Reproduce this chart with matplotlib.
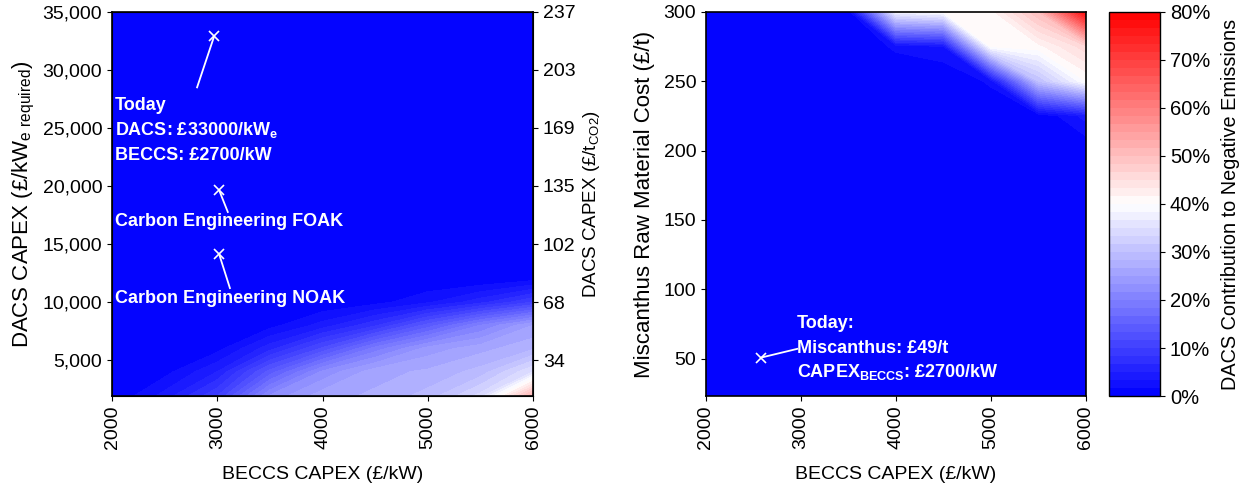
import numpy as np
import matplotlib.pyplot as plt
from matplotlib.ticker import FuncFormatter

plt.rcParams['font.family'] = ['Liberation Sans', 'DejaVu Sans']
plt.rcParams['font.size'] = 12
plt.rcParams['mathtext.fontset'] = 'custom'
plt.rcParams['mathtext.rm'] = 'Liberation Sans'
plt.rcParams['mathtext.bf'] = 'Liberation Sans:bold'

# BECCS CAPEX grid (GBP/kW), shared by both maps
beccs = [2000, 2500, 3000, 3500, 4000, 4500, 5000, 5500, 6000]

# left map: DACS CAPEX (GBP/kWe) vs BECCS CAPEX, DACS share of negative emissions (%)
dacs_capex = [1900, 4000, 6000, 8000, 10000, 12000, 15000, 20000, 25000, 30000, 35000]
share_dacs = [
    [0, 4, 10, 22, 26, 27, 29, 34, 52],
    [0, 1, 5, 14, 22, 26, 27, 29, 35],
    [0, 0, 1, 6, 12, 19, 24, 26, 28],
    [0, 0, 0, 1, 4, 8, 14, 20, 25],
    [0, 0, 0, 0, 0, 1, 3, 6, 10],
    [0, 0, 0, 0, 0, 0, 0, 0, 1],
    [0, 0, 0, 0, 0, 0, 0, 0, 0],
    [0, 0, 0, 0, 0, 0, 0, 0, 0],
    [0, 0, 0, 0, 0, 0, 0, 0, 0],
    [0, 0, 0, 0, 0, 0, 0, 0, 0],
    [0, 0, 0, 0, 0, 0, 0, 0, 0],
]

# right map: miscanthus cost (GBP/t) vs BECCS CAPEX
misc_cost = [20, 50, 100, 150, 200, 225, 250, 275, 300]
share_misc = [
    [0, 0, 0, 0, 0, 0, 0, 0, 0],
    [0, 0, 0, 0, 0, 0, 0, 0, 0],
    [0, 0, 0, 0, 0, 0, 0, 0, 0],
    [0, 0, 0, 0, 0, 0, 0, 0, 0],
    [0, 0, 0, 0, 0, 0, 0, 0, 0],
    [0, 0, 0, 0, 0, 0, 0, 0, 4],
    [0, 0, 0, 0, 0, 0, 2, 30, 40],
    [0, 0, 0, 0, 2, 3, 40, 41, 46],
    [0, 0, 0, 0, 38, 40, 41, 50, 78],
]

# right-hand axis of the left map: GBP/tCO2 equivalent of the GBP/kWe ticks
dacs_ticks = [5000, 10000, 15000, 20000, 25000, 30000, 35000]
dacs_per_t = ['34', '68', '102', '135', '169', '203', '237']

cbar_ticks = [0, 10, 20, 30, 40, 50, 60, 70, 80]
levels = np.linspace(0, 80, 49)

fig = plt.figure(figsize=(12.56, 4.88), dpi=100)
ax1 = fig.add_axes([0.0892, 0.1885, 0.3352, 0.787])
ax2 = fig.add_axes([0.5621, 0.1885, 0.3025, 0.787])
cax = fig.add_axes([0.883, 0.1885, 0.0406, 0.787])

X1, Y1 = np.meshgrid(beccs, dacs_capex)
cf = ax1.contourf(X1, Y1, np.array(share_dacs), levels=levels, cmap='bwr', vmin=0, vmax=80)
X2, Y2 = np.meshgrid(beccs, misc_cost)
ax2.contourf(X2, Y2, np.array(share_misc), levels=levels, cmap='bwr', vmin=0, vmax=80)

for ax in (ax1, ax2):
    ax.set_xlim(2000, 6000)
    ax.set_xticks([2000, 3000, 4000, 5000, 6000])
    ax.tick_params(axis='x', labelrotation=90, labelsize=14)
    ax.tick_params(axis='y', labelsize=14)
    ax.set_xlabel('BECCS CAPEX (£/kW)', fontsize=14, labelpad=12)
    for s in ax.spines.values():
        s.set_linewidth(1.2)

ax1.set_ylim(1900, 35000)
ax1.set_yticks(dacs_ticks)
ax1.yaxis.set_major_formatter(FuncFormatter(lambda v, p: f'{int(v):,}'))
ax1.set_ylabel('DACS CAPEX (£/kW$_\\mathregular{e\\ required}$)', fontsize=16, labelpad=4)

ax1r = ax1.twinx()
ax1r.set_ylim(ax1.get_ylim())
ax1r.set_yticks(dacs_ticks)
ax1r.set_yticklabels(dacs_per_t)
ax1r.tick_params(axis='y', labelsize=14)
ax1r.set_ylabel('DACS CAPEX (£/t$_\\mathregular{CO2}$)', fontsize=13.5, labelpad=4)

ax2.set_ylim(23, 300)
ax2.set_yticks([50, 100, 150, 200, 250, 300])
ax2.set_ylabel('Miscanthus Raw Material Cost (£/t)', fontsize=16, labelpad=6)

# annotations on the left map
txt = dict(color='white', fontweight='bold', fontsize=13, va='center', ha='left')
ax1.plot([2970, 2808], [32900, 28500], color='white', lw=1.3)
ax1.plot(2970, 32900, marker='x', color='white', ms=7, mew=1.2)
ax1.text(2030, 26900, 'Today', **txt)
ax1.text(2030, 24800, 'DACS: £33000/kW$_\\mathregular{\\mathbf{e}}$', **txt)
ax1.text(2030, 22600, 'BECCS: £2700/kW', **txt)

ax1.plot([3017, 3100], [19650, 17760], color='white', lw=1.3)
ax1.plot(3017, 19650, marker='x', color='white', ms=7, mew=1.2)
ax1.text(2030, 16900, 'Carbon Engineering FOAK', **txt)

ax1.plot([3017, 3120], [14140, 11200], color='white', lw=1.3)
ax1.plot(3017, 14140, marker='x', color='white', ms=7, mew=1.2)
ax1.text(2030, 10300, 'Carbon Engineering NOAK', **txt)

# annotation on the right map
ax2.plot([2580, 2960], [50.7, 57], color='white', lw=1.3)
ax2.plot(2580, 50.7, marker='x', color='white', ms=7, mew=1.2)
ax2.text(2960, 75, 'Today:', **txt)
ax2.text(2960, 57, 'Miscanthus: £49/t', **txt)
ax2.text(2960, 40, 'CAPEX$_\\mathregular{\\mathbf{BECCS}}$: £2700/kW', **txt)

cb = fig.colorbar(cf, cax=cax, ticks=cbar_ticks)
cb.ax.set_yticklabels([f'{t}%' for t in cbar_ticks])
cb.ax.tick_params(labelsize=14.5)
cb.set_label('DACS Contribution to Negative Emissions', fontsize=14.3, labelpad=8)
cb.outline.set_linewidth(1.0)

fig.savefig('out.png', dpi=100)
